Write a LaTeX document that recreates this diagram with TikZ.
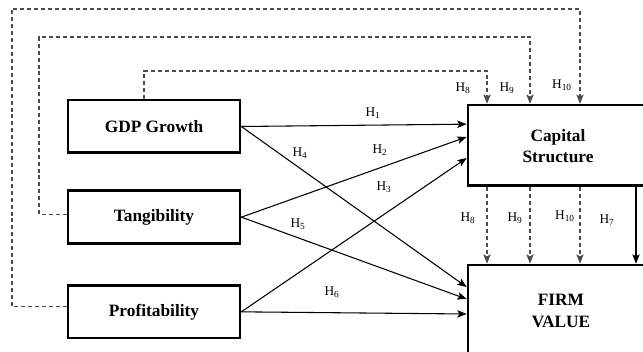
\documentclass[tikz,border=0pt]{standalone}
\usepackage{fontspec}
\setmainfont{Liberation Serif}
\usetikzlibrary{arrows.meta,positioning}

\begin{document}
\begin{tikzpicture}[->,>={Stealth[length=7pt,width=5.5pt,inset=1.5pt]},thin,x=0.75pt,y=-0.75pt]
\tikzstyle{var}=[shape=rectangle,draw,line width=2pt,text=black,text centered,minimum width=129pt,minimum height=39.5pt,font=\bfseries\fontsize{13}{16}\selectfont,align=center]
\tikzstyle{outcome}=[var,minimum width=165pt]
\tikzstyle{caption}=[text=black,font=\bfseries\fontsize{13}{16}\selectfont,align=center]
\tikzstyle{hyp}=[inner sep=0pt,font=\fontsize{10}{12}\selectfont]
\tikzstyle{direct}=[draw=black,line width=0.8pt]
\tikzstyle{mediate}=[draw=black!70,line width=0.8pt,dash pattern=on 3pt off 2.2pt]

\useasboundingbox (0,0) rectangle (643,352);
\clip (0,0) rectangle (643,352);

\node[var]  (G) at (154,126.5)                   {GDP Growth};
\node[var]  (T) [below of=G,node distance=68pt]  {Tangibility};
\node[var]  (P) [below of=T,node distance=71pt]  {Profitability};
\node[outcome] (CS) [minimum height=60.5pt] at (578,145.5) {};
\node[outcome] (FV) [minimum height=67.5pt] at (578,310) {};
\node[caption] (cst) at (558,146) {Capital\\Structure};
\node[caption] (fvt) at (561,311) {FIRM\\VALUE};

% turning points of the moderating paths
\coordinate (k8)  at (487,71);
\coordinate (k9)  at (530,37);
\coordinate (k10) at (580,9);
\coordinate (k7)  at (636,0);
\coordinate (l9)  at (39,37);
\coordinate (l10) at (12,9);

\path[every edge/.append style=direct]
(G.east) edge ([yshift=16pt]CS.west)
(G.east) edge ([yshift=17.2pt]FV.west)
(T.east) edge ([yshift=6.4pt]CS.west)
(T.east) edge ([yshift=8.2pt]FV.west)
(P.east) edge ([yshift=-9.4pt]CS.west)
(P.east) edge ([yshift=-3pt]FV.west)
(k7 |- CS.south) edge (k7 |- FV.north)
;

\draw[mediate] ([xshift=-7.5pt]G.north) |- (k8) -- (k8 |- CS.north);
\draw[mediate] ([yshift=2.2pt]T.west) -| (l9) -- (k9) -- (k9 |- CS.north);
\draw[mediate] ([yshift=4pt]P.west) -| (l10) -- (k10) -- (k10 |- CS.north);
\draw[mediate] (k8 |- CS.south) -- (k8 |- FV.north);
\draw[mediate] (k9 |- CS.south) -- (k9 |- FV.north);
\draw[mediate] (k10 |- CS.south) -- (k10 |- FV.north);

% hypothesis labels
\node[hyp] (h1)  at (373,113) {H\textsubscript{1}};
\node[hyp] (h2)  at (380,150) {H\textsubscript{2}};
\node[hyp] (h3)  at (384,187) {H\textsubscript{3}};
\node[hyp] (h4)  at (300,153) {H\textsubscript{4}};
\node[hyp] (h5)  at (298,224) {H\textsubscript{5}};
\node[hyp] (h6)  at (332,292) {H\textsubscript{6}};
\node[hyp] (h8)  at (463,88)  {H\textsubscript{8}};
\node[hyp] (h9)  at (507,88)  {H\textsubscript{9}};
\node[hyp] (h10) at (562,85)  {H\textsubscript{10}};
\node[hyp] (b8)  at (468,218) {H\textsubscript{8}};
\node[hyp] (b9)  at (515,218) {H\textsubscript{9}};
\node[hyp] (b10) at (565,216) {H\textsubscript{10}};
\node[hyp] (b7)  at (607,220) {H\textsubscript{7}};
\end{tikzpicture}
\end{document}
